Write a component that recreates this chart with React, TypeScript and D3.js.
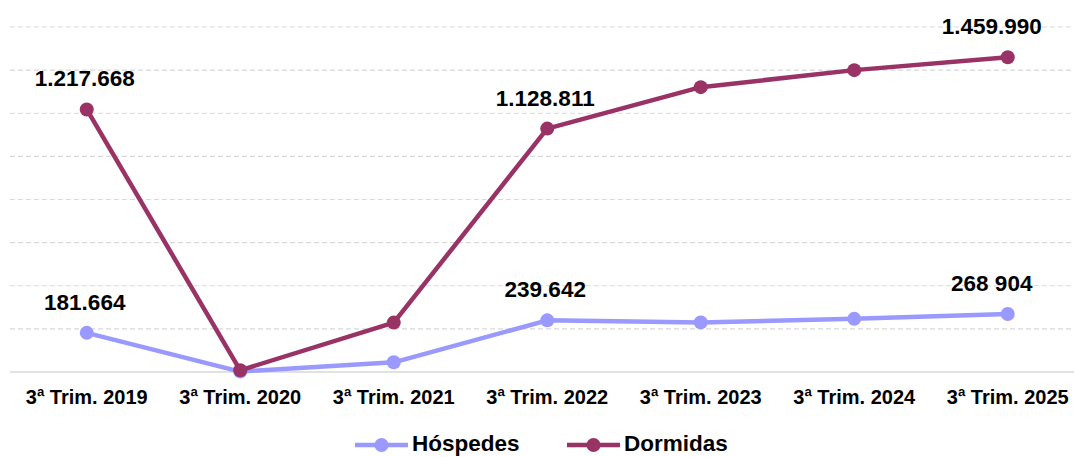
import React, { useEffect } from 'react';
import * as d3 from 'd3';

const categories = ['3ª Trim. 2019', '3ª Trim. 2020', '3ª Trim. 2021', '3ª Trim. 2022', '3ª Trim. 2023', '3ª Trim. 2024', '3ª Trim. 2025'];
const hospedes = [181664, 2000, 45000, 239642, 230000, 246500, 268904];
const dormidas = [1217668, 8000, 229000, 1128811, 1321000, 1400000, 1459990];
const hospedesLabels = ['181.664', '', '', '239.642', '', '', '268 904'];
const dormidasLabels = ['1.217.668', '', '', '1.128.811', '', '', '1.459.990'];
const yTicks = [0, 200000, 400000, 600000, 800000, 1000000, 1200000, 1400000, 1600000];

const W = 1074, H = 457;
const font = '"Liberation Sans", Arial, sans-serif';

const series = [
  { name: 'Hóspedes', values: hospedes, labels: hospedesLabels, color: '#9999ff' },
  { name: 'Dormidas', values: dormidas, labels: dormidasLabels, color: '#993366' },
];

export default function App() {
  useEffect(() => {
    document.body.style.margin = '0';
  }, []);

  const x = d3.scalePoint<string>().domain(categories).range([10, 1084.5]).padding(0.5);
  const y = d3.scaleLinear().domain([0, 1600000]).range([372, 27]);
  const line = d3.line<number>()
    .x((d, i) => x(categories[i]) as number)
    .y(d => y(d));

  const last = categories.length - 1;

  return (
    <svg width={W} height={H} style={{ display: 'block', fontFamily: font }}>
      {yTicks.map(t => (
        <line key={t} x1={10} x2={W} y1={y(t)} y2={y(t)}
          stroke="#d9d9d9" strokeWidth={t === 0 ? 1.6 : 1.2}
          strokeDasharray={t === 0 ? undefined : '5,3'} />
      ))}
      {categories.map(c => (
        <text key={c} x={x(c)} y={404} textAnchor="middle" fontSize={20} fontWeight="bold" fill="#000">{c}</text>
      ))}
      {series.map(s => (
        <g key={s.name}>
          <path d={line(s.values) || ''} fill="none" stroke={s.color} strokeWidth={4.5} strokeLinejoin="round" />
          {s.values.map((v, i) => (
            <circle key={i} cx={x(categories[i])} cy={y(v)} r={7} fill={s.color} />
          ))}
          {s.labels.map((l, i) => l ? (
            <text key={'l' + i} x={(x(categories[i]) as number) - (i === last ? 16 : 2)} y={y(s.values[i]) - 23}
              textAnchor="middle" fontSize={22.5} fontWeight="bold" fill="#000">{l}</text>
          ) : null)}
        </g>
      ))}
      {series.map((s, i) => {
        const lx = i === 0 ? 355 : 567;
        return (
          <g key={'lg' + s.name}>
            <line x1={lx} x2={lx + 53} y1={445} y2={445} stroke={s.color} strokeWidth={4.5} />
            <circle cx={lx + 26.5} cy={445} r={7} fill={s.color} />
            <text x={lx + 57} y={451} fontSize={22.5} fontWeight="bold" fill="#000">{s.name}</text>
          </g>
        );
      })}
    </svg>
  );
}
